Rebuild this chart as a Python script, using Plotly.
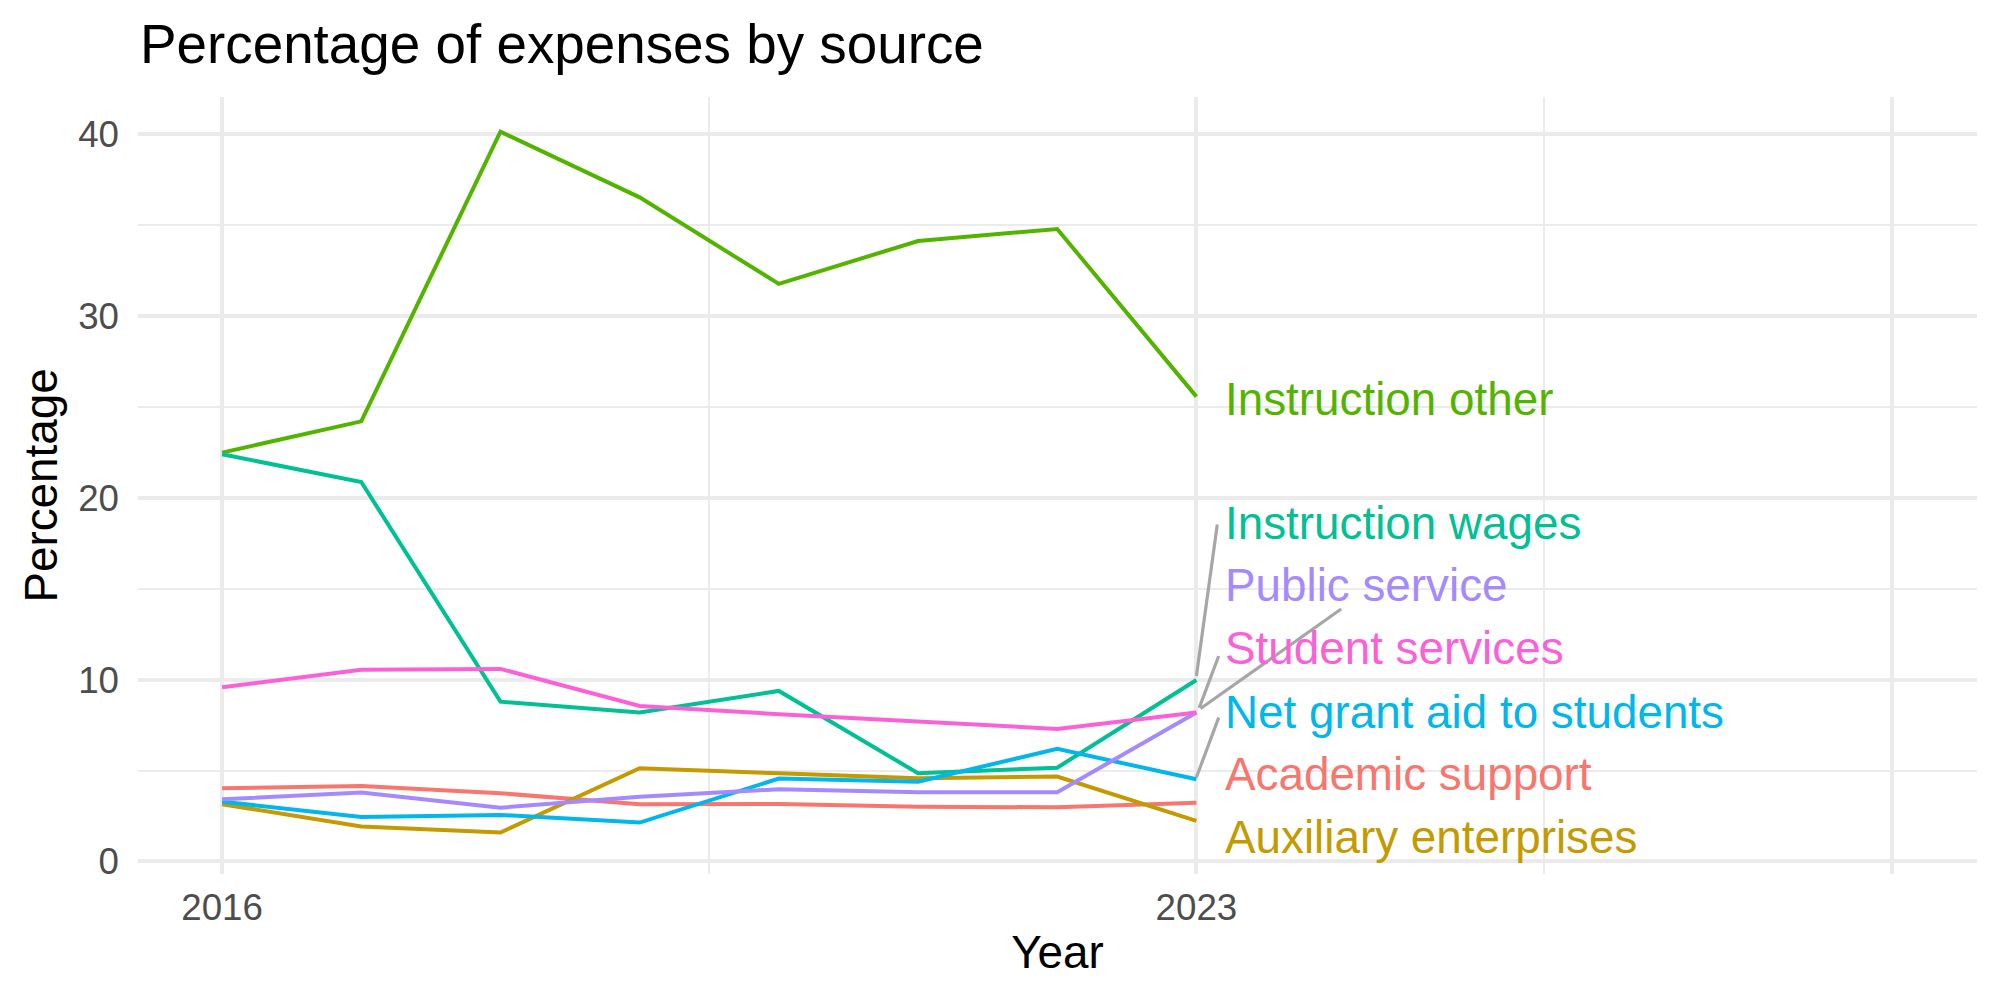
import plotly.graph_objects as go

years = [2016, 2017, 2018, 2019, 2020, 2021, 2022, 2023]

categories = ["Academic support", "Auxiliary enterprises", "Instruction other",
              "Instruction wages", "Net grant aid to students", "Public service",
              "Student services"]

academic_support = [4.03, 4.15, 3.75, 3.15, 3.16, 3.01, 2.98, 3.23]
auxiliary_enterprises = [3.15, 1.92, 1.59, 5.13, 4.85, 4.58, 4.67, 2.23]
instruction_other = [22.49, 24.21, 40.14, 36.53, 31.77, 34.13, 34.79, 25.57]
instruction_wages = [22.4, 20.87, 8.79, 8.19, 9.38, 4.85, 5.16, 9.98]
net_grant_aid = [3.29, 2.45, 2.56, 2.14, 4.56, 4.39, 6.19, 4.52]
public_service = [3.42, 3.79, 2.96, 3.56, 3.97, 3.81, 3.81, 8.19]
student_services = [9.58, 10.55, 10.59, 8.55, 8.10, 7.69, 7.29, 8.19]

series_values = [academic_support, auxiliary_enterprises, instruction_other,
                 instruction_wages, net_grant_aid, public_service, student_services]

colors = ["#F8766D", "#C49A00", "#53B400", "#00C094", "#00B6EB", "#A58AFF", "#FB61D7"]

# label positions (repelled labels to the right of the last year)
label_x = 2023.19
label_y = [4.78, 1.30, 25.43, 18.58, 8.22, 15.17, 11.73]

# leader segments: (category index, x0, y0, x1, y1)
segments = [
    (3, 2023.0, 10.2, 2023.15, 18.53),
    (6, 2023.02, 8.45, 2023.16, 11.30),
    (5, 2023.03, 8.41, 2024.04, 13.89),
    (4, 2023.0, 4.63, 2023.16, 7.91),
]

x_tickvals = [2016, 2023, 2028]
x_ticktext = ["2016", "2023", ""]
x_minorvals = [2019.5, 2025.5]
y_tickvals = [0, 10, 20, 30, 40]

FONT = "Liberation Sans, Arial, Helvetica, sans-serif"

fig = go.Figure()

for name, vals, col in zip(categories, series_values, colors):
    fig.add_trace(go.Scatter(x=years, y=vals, mode="lines", name=name,
                             line=dict(color=col, width=4), showlegend=False))

for idx, x0, y0, x1, y1 in segments:
    fig.add_trace(go.Scatter(x=[x0, x1], y=[y0, y1], mode="lines",
                             line=dict(color="#A6A6A6", width=3.2), showlegend=False,
                             hoverinfo="skip"))

for name, ly, col in zip(categories, label_y, colors):
    fig.add_annotation(x=label_x, y=ly, text=name, showarrow=False,
                       xanchor="left", yanchor="middle",
                       font=dict(family=FONT, size=45.8, color=col))

fig.update_layout(
    width=2000, height=1000,
    paper_bgcolor="white", plot_bgcolor="white",
    margin=dict(l=138, r=23, t=97, b=126),
    font=dict(family=FONT, color="black"),
    title=dict(text="Percentage of expenses by source",
               font=dict(family=FONT, size=54.8, color="black"),
               x=140 / 2000, xref="container", xanchor="left",
               y=1 - 63 / 1000, yref="container", yanchor="bottom"),
    xaxis=dict(range=[2015.396, 2028.608], tickvals=x_tickvals, ticktext=x_ticktext,
               showgrid=True, gridcolor="#EBEBEB", gridwidth=3.5,
               minor=dict(tickvals=x_minorvals, showgrid=True, gridcolor="#EBEBEB", gridwidth=2),
               zeroline=False, showline=False, ticks="",
               tickfont=dict(family=FONT, size=36.7, color="#4D4D4D"),
               ticklabelstandoff=8,
               title=dict(text="Year", font=dict(family=FONT, size=45.8, color="black"),
                          standoff=9)),
    yaxis=dict(range=[-0.69, 42.05], tickvals=y_tickvals,
               showgrid=True, gridcolor="#EBEBEB", gridwidth=3.5,
               minor=dict(dtick=5, tick0=0, showgrid=True, gridcolor="#EBEBEB", gridwidth=2),
               zeroline=False, showline=False, ticks="",
               tickfont=dict(family=FONT, size=36.7, color="#4D4D4D"),
               ticklabelstandoff=18,
               title=dict(text="Percentage", font=dict(family=FONT, size=45.8, color="black"),
                          standoff=6)),
)

fig.write_html("out.html")
